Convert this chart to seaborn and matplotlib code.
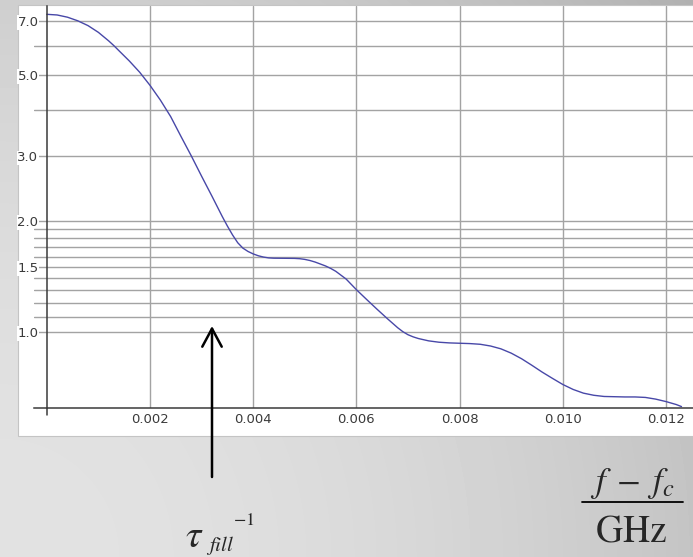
import numpy as np
import pandas as pd
import matplotlib
matplotlib.use("Agg")
import matplotlib.pyplot as plt
import seaborn as sns
from matplotlib.ticker import FixedLocator, FixedFormatter, NullFormatter, MultipleLocator
from matplotlib.patches import FancyArrowPatch, Rectangle
from matplotlib.lines import Line2D

# ---- data ----
freq = [0.0000, 0.0002, 0.0004, 0.0006, 0.0008, 0.0010, 0.0012, 0.0013, 0.0014, 0.0016,
        0.0018, 0.0020, 0.0022, 0.0024, 0.0026, 0.0028, 0.0030, 0.0032, 0.0034, 0.0035,
        0.0036, 0.0037, 0.0038, 0.0039, 0.0040, 0.0041, 0.0042, 0.0043, 0.0044, 0.0046,
        0.0048, 0.0049, 0.0050, 0.0051, 0.0052, 0.0054, 0.0055, 0.0056, 0.0058, 0.0060,
        0.0062, 0.0064, 0.0066, 0.0068, 0.0069, 0.0070, 0.0071, 0.0072, 0.0074, 0.0076,
        0.0078, 0.0080, 0.0082, 0.0084, 0.0086, 0.0088, 0.0090, 0.0092, 0.0094, 0.0096,
        0.0098, 0.0100, 0.0102, 0.0104, 0.0106, 0.0108, 0.0110, 0.0112, 0.0114, 0.0116,
        0.0118, 0.0120, 0.0122, 0.0123]
signal = [7.30, 7.27, 7.17, 7.01, 6.80, 6.52, 6.18, 6.00, 5.81, 5.45,
          5.08, 4.68, 4.27, 3.85, 3.40, 3.01, 2.65, 2.34, 2.06, 1.94,
          1.835, 1.748, 1.690, 1.655, 1.630, 1.611, 1.598, 1.590, 1.587, 1.586,
          1.585, 1.582, 1.575, 1.564, 1.549, 1.512, 1.489, 1.462, 1.393, 1.303,
          1.225, 1.153, 1.087, 1.027, 1.002, 0.983, 0.970, 0.960, 0.946, 0.938,
          0.934, 0.932, 0.930, 0.926, 0.916, 0.900, 0.876, 0.846, 0.812, 0.778,
          0.748, 0.720, 0.698, 0.682, 0.673, 0.668, 0.667, 0.666, 0.666, 0.664,
          0.657, 0.647, 0.635, 0.627]

y_major = [1.0, 1.5, 2.0, 3.0, 5.0, 7.0]
y_major_labels = ["1.0", "1.5", "2.0", "3.0", "5.0", "7.0"]
y_minor = [1.1, 1.2, 1.3, 1.4, 1.6, 1.7, 1.8, 1.9, 4.0, 6.0]
x_major = [0.002, 0.004, 0.006, 0.008, 0.010, 0.012]
x_major_labels = ["0.002", "0.004", "0.006", "0.008", "0.010", "0.012"]

df = pd.DataFrame({"freq": freq, "signal": signal})

sns.set_theme(style="white")
plt.rcParams["font.family"] = ["DejaVu Sans"]
plt.rcParams["mathtext.fontset"] = "stix"

W, H = 693, 557
fig = plt.figure(figsize=(W / 100, H / 100), dpi=100)

# ---- gradient background ----
bg = fig.add_axes([0, 0, 1, 1], zorder=-10)
yy, xx = np.mgrid[0:H, 0:W]
d = np.hypot(xx, H - yy)
v = np.clip(226 - 30 * (d / 692.0) ** 2, 0, 255)
bg.imshow(v, cmap="gray", vmin=0, vmax=255, aspect="auto",
          extent=[0, 1, 0, 1], interpolation="bilinear")
bg.set_xlim(0, 1)
bg.set_ylim(0, 1)
bg.axis("off")
bg.add_patch(Rectangle((18 / W, (H - 436) / H), (W - 18) / W + 0.01, (436 - 5) / H,
                       transform=bg.transAxes, facecolor="white",
                       edgecolor="#c4c4c4", lw=0.8))

# ---- main plot ----
left_px, right_px, top_px, bot_px = 33.5, 693, 6, 408
ax = fig.add_axes([left_px / W, (H - bot_px) / H, (right_px - left_px) / W,
                   (bot_px - top_px) / H])
ax.patch.set_alpha(0)

sns.lineplot(data=df, x="freq", y="signal", ax=ax, color="#4848a8", lw=1.0)

ax.set_yscale("log")
ax.set_xlim(-0.000258, 0.012523)
ax.set_ylim(0.6215, 7.69)
ax.set_xlabel("")
ax.set_ylabel("")

axis_col = "#3a3a3a"
for s in ["top", "right"]:
    ax.spines[s].set_visible(False)
ax.spines["left"].set_position(("data", 0))
ax.spines["left"].set_color(axis_col)
ax.spines["bottom"].set_color(axis_col)
ax.spines["left"].set_linewidth(1.1)
ax.spines["bottom"].set_linewidth(1.1)

ax.yaxis.set_major_locator(FixedLocator(y_major))
ax.yaxis.set_major_formatter(FixedFormatter(y_major_labels))
ax.yaxis.set_minor_locator(FixedLocator(y_minor))
ax.yaxis.set_minor_formatter(NullFormatter())
ax.xaxis.set_major_locator(FixedLocator(x_major))
ax.xaxis.set_major_formatter(FixedFormatter(x_major_labels))
ax.xaxis.set_minor_locator(MultipleLocator(0.0005))
ax.xaxis.set_minor_formatter(NullFormatter())

lab_col = "#3a3a3a"
ax.tick_params(axis="y", which="major", direction="out", length=4, width=1.0,
               color=axis_col, pad=2, labelsize=9.5, labelcolor=lab_col)
ax.tick_params(axis="y", which="minor", direction="in", length=3, width=1.0,
               color=axis_col)
ax.tick_params(axis="x", which="major", direction="in", length=6, width=1.0,
               color="#8c8c8c", pad=3.5, labelsize=9.5, labelcolor=lab_col)
ax.tick_params(axis="x", which="minor", direction="in", length=3, width=1.0,
               color=axis_col)

grid_col = "#a3a3a3"
ax.yaxis.grid(True, which="both", color=grid_col, lw=1.0)
ax.xaxis.grid(True, which="major", color=grid_col, lw=1.0)
ax.set_axisbelow(True)

for lbl in ax.get_yticklabels():
    lbl.set_bbox(dict(facecolor="white", edgecolor="none", pad=0.6))

# y-axis extends slightly below the x-axis
ax.add_line(Line2D([0, 0], [-0.018, 0], transform=ax.get_xaxis_transform(),
                   color=axis_col, lw=1.1, clip_on=False))

# ---- arrow and annotations ----
arrow = FancyArrowPatch((212 / W, (H - 477) / H), (212 / W, (H - 326) / H),
                        transform=fig.transFigure,
                        arrowstyle="->,head_length=0.65,head_width=0.35",
                        mutation_scale=20, lw=1.8, color="black",
                        shrinkA=0, shrinkB=0)
fig.patches.append(arrow)

fig.text(185 / W, (H - 547) / H, r"$\tau$", fontsize=28, va="baseline", ha="left")
fig.text(206 / W, (H - 551) / H, r"$fill$", fontsize=15, va="baseline", ha="left")
fig.text(233 / W, (H - 525) / H, r"$-1$", fontsize=13, va="baseline", ha="left")

fig.text(632 / W, (H - 492) / H, r"$f\;-\;f_c$", fontsize=25, va="baseline", ha="center")
fig.add_artist(Line2D([581.7 / W, 682.7 / W], [(H - 501.7) / H] * 2,
                      transform=fig.transFigure, color="black", lw=1.3))
fig.text(631 / W, (H - 541.7) / H, r"$\mathrm{GHz}$", fontsize=27,
         va="baseline", ha="center")

fig.savefig("out.png", dpi=100)
